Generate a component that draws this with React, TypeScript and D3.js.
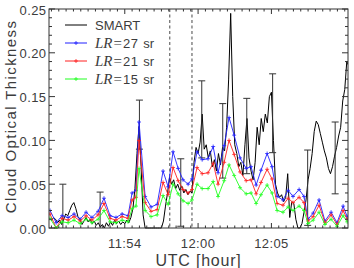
import React from "react";
import * as d3 from "d3";

const W = 354;
const H = 268;

// time is given in seconds relative to 11:54:00 UTC
const smartStartSec = -360;
const smartStepSec = 10;
const smartValues = [
  0.008, 0.012, 0.010, 0.006, 0.009, 0.004, 0.010, 0.016, 0.014, 0.020,
  0.026, 0.029, 0.022, 0.013, 0.010, 0.004, 0.008, 0.012, 0.007, 0.010,
  0.005, 0.008, 0.003, 0.006, 0.001, 0.004, 0.000, 0.006, 0.002, 0.007,
  0.003, 0.009, 0.005, 0.008, 0.004, 0.007, 0.005, 0.009, 0.006, 0.012,
  0.022, 0.045, 0.085, 0.116, 0.070, 0.015, 0.000, 0.000, 0.000, 0.000,
  0.000, 0.000, 0.000, 0.000, 0.000, 0.008, 0.025, 0.040, 0.058, 0.050,
  0.055, 0.045, 0.050, 0.043, 0.048, 0.040, 0.044, 0.038, 0.042, 0.040,
  0.075, 0.092, 0.085, 0.098, 0.130, 0.090, 0.095, 0.080, 0.088, 0.070,
  0.078, 0.065, 0.085, 0.072, 0.092, 0.088, 0.115, 0.170, 0.245, 0.150,
  0.095, 0.085, 0.070, 0.075, 0.060, 0.095, 0.125, 0.080, 0.065, 0.055,
  0.075, 0.115, 0.095, 0.125, 0.110, 0.130, 0.120, 0.150, 0.155, 0.100,
  0.050, 0.040, 0.035, 0.038, 0.030, 0.035, 0.062, 0.012, 0.030, 0.028,
  0.010, 0.000, 0.000, 0.005, 0.018, 0.032, 0.055, 0.068, 0.085, 0.110,
  0.122, 0.118, 0.108, 0.098, 0.088, 0.080, 0.068, 0.062, 0.070, 0.082,
  0.092, 0.105, 0.115, 0.145, 0.158, 0.190, 0.185,
];

const lidarSec = [
  -367, -337, -308, -278, -249, -219, -190, -161, -131, -102,
  -72, -43, -13, 16, 36, 55, 70, 100, 129, 159,
  188, 213, 237, 262, 286, 311, 330, 355, 380, 409,
  434, 458, 488, 512, 537, 566, 596, 620, 645, 669,
  699, 723, 748, 777, 802, 826, 856, 880, 900, 925,
  954, 983, 1013, 1042, 1072, 1092,
];
const lr27 = [
  0.020, 0.006, 0.014, 0.012, 0.016, 0.010, 0.018, 0.012, 0.019, 0.034,
  0.014, 0.012, 0.016, 0.014, 0.040, 0.043, 0.121, 0.036, 0.024, 0.027,
  0.065, 0.047, 0.087, 0.068, 0.055, 0.050, 0.056, 0.087, 0.078, 0.079,
  0.093, 0.063, 0.094, 0.126, 0.106, 0.080, 0.068, 0.070, 0.049, 0.066,
  0.085, 0.070, 0.036, 0.032, 0.043, 0.036, 0.044, 0.036, 0.010, 0.017,
  0.032, 0.008, 0.018, 0.006, 0.025, 0.013,
];
const lr21 = [
  0.016, 0.000, 0.011, 0.009, 0.013, 0.008, 0.014, 0.009, 0.015, 0.028,
  0.011, 0.009, 0.013, 0.011, 0.032, 0.035, 0.100, 0.029, 0.019, 0.021,
  0.052, 0.038, 0.069, 0.054, 0.044, 0.040, 0.044, 0.069, 0.062, 0.063,
  0.074, 0.050, 0.075, 0.100, 0.084, 0.064, 0.054, 0.055, 0.039, 0.052,
  0.067, 0.056, 0.028, 0.026, 0.034, 0.029, 0.035, 0.029, 0.008, 0.013,
  0.026, 0.006, 0.015, 0.004, 0.020, 0.010,
];
const lr15 = [
  0.011, 0.000, 0.007, 0.006, 0.009, 0.005, 0.010, 0.006, 0.010, 0.020,
  0.007, 0.006, 0.009, 0.007, 0.022, 0.025, 0.068, 0.020, 0.013, 0.015,
  0.037, 0.027, 0.050, 0.039, 0.031, 0.028, 0.032, 0.050, 0.045, 0.045,
  0.053, 0.036, 0.054, 0.072, 0.060, 0.046, 0.039, 0.040, 0.028, 0.038,
  0.049, 0.040, 0.020, 0.018, 0.024, 0.020, 0.025, 0.020, 0.005, 0.009,
  0.018, 0.004, 0.010, 0.002, 0.014, 0.007,
];

const errSec = [-304, -121, 72, 275, 378, 481, 599, 726, 898, 1033];
const errMid = [0.012, 0.008, 0.118, 0.0405, 0.124, 0.0995, 0.105, 0.131, 0.046, 0.080];
const errHalf = [0.038, 0.033, 0.028, 0.0385, 0.044, 0.0425, 0.043, 0.045, 0.043, 0.041];

const dashedSec = [221, 330];

const xTickSec = [0, 360, 720];
const xTickLabels = ["11:54", "12:00", "12:05"];
const yTicks = [0, 0.05, 0.1, 0.15, 0.2, 0.25];
const yTickLabels = ["0.00", "0.05", "0.10", "0.15", "0.20", "0.25"];

const seriesNames = ["SMART", "27", "21", "15"];
const seriesColors = ["#000000", "#2020ff", "#ff2020", "#20ff20"];

const FONT = "'Liberation Sans', Arial, sans-serif";
const SERIF = "'Liberation Serif', 'Times New Roman', serif";
const AX = "#333";
const TXT = "#3c3c3c";

export default function App() {
  const x = d3.scaleLinear().domain([-372, 1096]).range([49, 348]);
  const y = d3.scaleLinear().domain([0, 0.25]).range([228, 9]);
  const [x0, x1] = x.range();
  const [yb, yt] = y.range();

  const smartPts: [number, number][] = smartValues.map((v, i) => [
    smartStartSec + i * smartStepSec,
    v,
  ]);
  const line = d3
    .line<[number, number]>()
    .x((d) => x(d[0]))
    .y((d) => y(d[1]));

  const lidar = [lr27, lr21, lr15];
  const lidarColors = [seriesColors[1], seriesColors[2], seriesColors[3]];

  const xMinor = d3.range(-360, 1081, 36);
  const yMinor = d3.range(0, 0.2501, 0.01);

  const plus = (cx: number, cy: number) =>
    `M${cx - 2},${cy}h4M${cx},${cy - 2}v4`;

  return (
    <svg
      width={W}
      height={H}
      style={{ position: "fixed", left: 0, top: 0, background: "#fff" }}
    >
      <defs>
        <clipPath id="plotclip">
          <rect x={x0} y={yt} width={x1 - x0} height={yb - yt + 1} />
        </clipPath>
      </defs>
      <rect x={0} y={0} width={W} height={H} fill="#fff" />

      <g clipPath="url(#plotclip)">
        {dashedSec.map((s, i) => (
          <line
            key={"d" + i}
            x1={x(s)}
            x2={x(s)}
            y1={yt}
            y2={yb}
            stroke="#333"
            strokeWidth={0.9}
            strokeDasharray="3,2.5"
          />
        ))}
        <path d={line(smartPts) || ""} fill="none" stroke="#000" strokeWidth={1} />
        {errSec.map((s, i) => {
          const top = errMid[i] + errHalf[i];
          const bot = errMid[i] - errHalf[i];
          const cx = x(s);
          return (
            <g key={"e" + i} stroke="#333" strokeWidth={1} fill="none">
              <line x1={cx} x2={cx} y1={y(top)} y2={y(Math.max(bot, 0))} />
              <line x1={cx - 3.5} x2={cx + 3.5} y1={y(top)} y2={y(top)} />
              {bot > 0 && (
                <line x1={cx - 3.5} x2={cx + 3.5} y1={y(bot)} y2={y(bot)} />
              )}
            </g>
          );
        })}
        {lidar.map((vals, k) => {
          const pts: [number, number][] = vals.map((v, i) => [lidarSec[i], v]);
          return (
            <g key={"l" + k}>
              <path
                d={line(pts) || ""}
                fill="none"
                stroke={lidarColors[k]}
                strokeWidth={0.9}
              />
              <path
                d={pts.map((p) => plus(x(p[0]), y(p[1]))).join("")}
                fill="none"
                stroke={lidarColors[k]}
                strokeWidth={0.8}
              />
            </g>
          );
        })}
      </g>

      {/* frame */}
      <rect
        x={x0}
        y={yt}
        width={x1 - x0}
        height={yb - yt}
        fill="none"
        stroke={AX}
        strokeWidth={1}
      />
      {/* x ticks (bottom and top) */}
      {xMinor.map((s, i) => {
        const isMajor = xTickSec.includes(s);
        const len = isMajor ? 5 : 2.5;
        const cx = x(s);
        if (cx <= x0 + 0.5 || cx >= x1 - 0.5) return null;
        return (
          <g key={"xt" + i} stroke={AX} strokeWidth={1}>
            <line x1={cx} x2={cx} y1={yb} y2={yb - len} />
            <line x1={cx} x2={cx} y1={yt} y2={yt + len} />
          </g>
        );
      })}
      {/* y ticks (left and right) */}
      {yMinor.map((v, i) => {
        const isMajor = Math.round(v * 100) % 5 === 0;
        const len = isMajor ? 6 : 3;
        const cy = y(v);
        return (
          <g key={"yt" + i} stroke={AX} strokeWidth={1}>
            <line x1={x0} x2={x0 + len} y1={cy} y2={cy} />
            <line x1={x1} x2={x1 - len} y1={cy} y2={cy} />
          </g>
        );
      })}
      {xTickSec.map((s, i) => (
        <text
          key={"xl" + i}
          x={x(s)}
          y={248}
          textAnchor="middle"
          fontFamily={FONT}
          fontSize={13}
          letterSpacing={0.4}
          fill={TXT}
        >
          {xTickLabels[i]}
        </text>
      ))}
      {yTicks.map((v, i) => (
        <text
          key={"yl" + i}
          x={46.5}
          y={y(v) + 5.5}
          textAnchor="end"
          fontFamily={FONT}
          fontSize={13}
          letterSpacing={0.4}
          fill={TXT}
        >
          {yTickLabels[i]}
        </text>
      ))}
      <text
        x={(x0 + x1) / 2}
        y={266}
        textAnchor="middle"
        fontFamily={FONT}
        fontSize={16}
        letterSpacing={0.8}
        fill={TXT}
      >
        UTC [hour]
      </text>
      <text
        transform={`translate(15.5,${(yt + yb) / 2 - 2}) rotate(-90)`}
        textAnchor="middle"
        fontFamily={FONT}
        fontSize={15}
        letterSpacing={1.4}
        fill={TXT}
      >
        Cloud Optical Thickness
      </text>

      {/* legend */}
      {seriesNames.map((name, i) => {
        const cy = 25 + i * 18;
        return (
          <g key={"lg" + i}>
            <line
              x1={65}
              x2={87}
              y1={cy}
              y2={cy}
              stroke={seriesColors[i]}
              strokeWidth={1}
            />
            {i > 0 && (
              <path
                d={plus(76, cy)}
                fill="none"
                stroke={seriesColors[i]}
                strokeWidth={0.8}
              />
            )}
            {i === 0 ? (
              <text x={95} y={cy + 4.8} fontFamily={FONT} fontSize={13} fill={TXT}>
                {name}
              </text>
            ) : (
              <text x={95} y={cy + 4.8} fontFamily={FONT} fontSize={13} fill={TXT}>
                <tspan fontFamily={SERIF} fontStyle="italic" fontSize={15}>
                  LR
                </tspan>
                <tspan fontFamily={SERIF} fontSize={15} dx={1}>
                  =
                </tspan>
                <tspan dx={1} letterSpacing={0.6}>{name}</tspan>
                <tspan dx={1}> sr</tspan>
              </text>
            )}
          </g>
        );
      })}
    </svg>
  );
}
